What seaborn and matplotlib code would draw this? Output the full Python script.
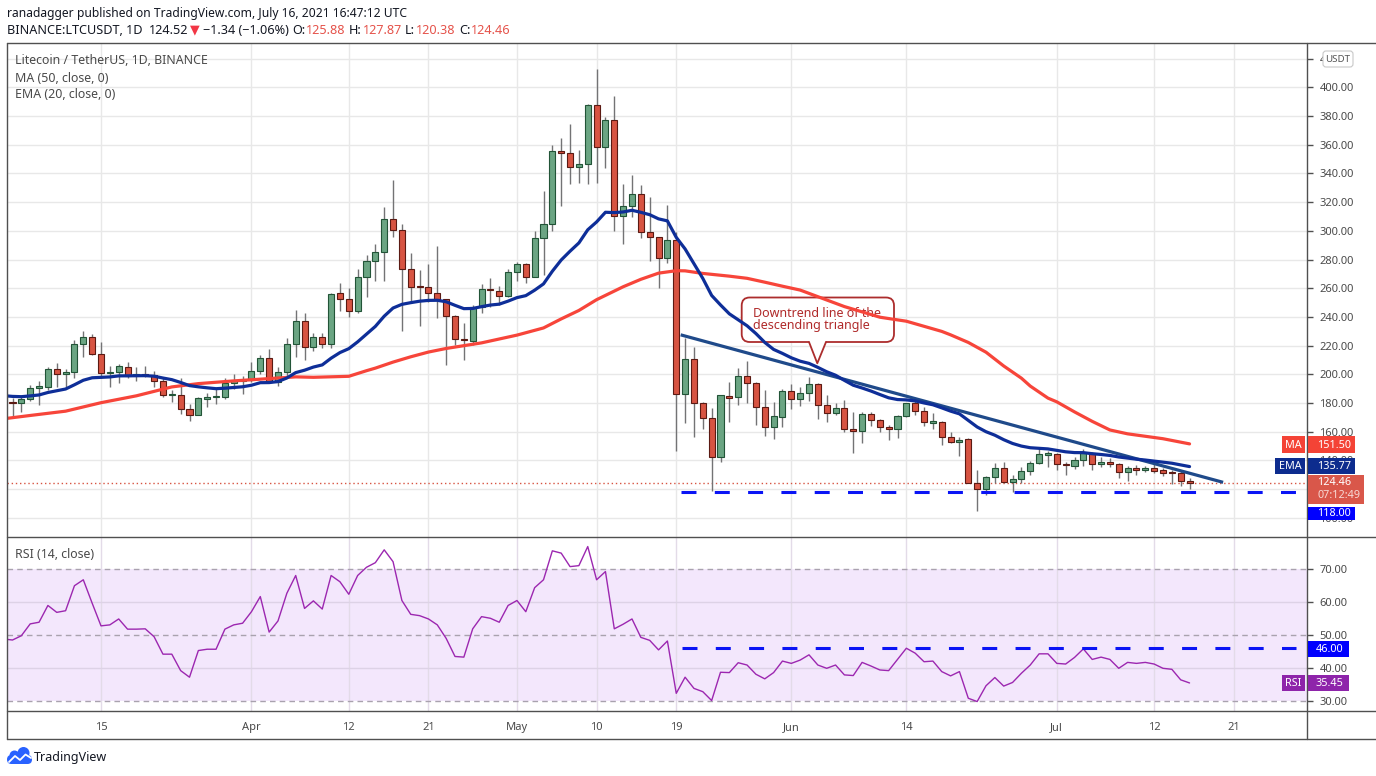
import numpy as np
import pandas as pd
import matplotlib
matplotlib.use("Agg")
import matplotlib.pyplot as plt
import matplotlib.dates as mdates
from matplotlib.patches import Rectangle, FancyBboxPatch, Polygon, Ellipse
from matplotlib.lines import Line2D
from matplotlib.transforms import Affine2D
import seaborn as sns

# ---------------- data ----------------
start_date = "2021-03-04"

mar_open = [187.2, 180.7, 179.8, 182.5, 190.2, 191.4, 203.7, 199.9, 201.3, 220.9, 225.7, 213.9, 200.6, 201.3,
            205.3, 199.5, 199.8, 199.7, 195.1, 185.3, 185.3, 175.6, 171.4, 183.0, 184.0, 183.9, 193.7, 195.5]
mar_high = [189.0, 183.2, 185.1, 192.5, 195.3, 205.3, 207.6, 203.7, 223.9, 230.2, 228.1, 222.3, 205.8, 207.1,
            208.3, 205.3, 205.8, 202.3, 198.3, 189.0, 197.2, 179.3, 183.9, 186.7, 189.5, 197.2, 200.0, 198.8]
mar_low = [179.5, 169.3, 174.0, 181.6, 178.6, 189.0, 191.4, 191.4, 197.6, 212.3, 213.4, 197.2, 190.9, 193.7,
           197.6, 195.5, 198.3, 191.4, 183.9, 180.9, 172.3, 167.7, 171.4, 177.4, 179.3, 182.5, 189.5, 186.2]
mar_close = [180.2, 179.8, 182.5, 190.2, 191.8, 203.7, 199.9, 201.3, 220.9, 225.7, 213.9, 200.6, 201.1, 205.8,
             199.0, 199.8, 199.7, 195.1, 185.3, 185.5, 175.6, 171.4, 183.2, 183.9, 184.2, 193.7, 195.5, 196.0]

apr_open = [196.0, 202.5, 211.1, 194.8, 201.8, 220.9, 236.9, 218.8, 225.8, 220.9, 256.4, 252.2, 243.9, 267.6, 278.7,
            285.0, 308.0, 300.3, 273.1, 261.6, 260.6, 256.9, 252.2, 240.9, 224.2, 223.4, 247.1, 259.6, 257.8, 254.8]
apr_high = [208.3, 213.4, 217.6, 204.8, 225.0, 244.8, 242.5, 228.5, 228.5, 256.9, 263.4, 259.9, 273.1, 283.1, 290.8,
            316.4, 335.4, 304.7, 284.8, 272.7, 276.9, 289.4, 252.8, 241.5, 235.5, 248.3, 262.9, 266.9, 261.5, 273.1]
apr_low = [194.8, 200.2, 193.8, 191.8, 198.3, 212.3, 210.0, 216.5, 218.6, 218.6, 244.3, 239.7, 243.0, 254.1, 265.2,
           265.2, 295.9, 230.4, 250.6, 233.9, 250.6, 239.0, 206.5, 220.4, 210.0, 220.4, 242.9, 247.1, 248.3, 254.1]
apr_close = [202.5, 211.1, 194.8, 201.8, 220.9, 236.9, 218.8, 225.8, 220.9, 255.7, 252.2, 243.9, 267.6, 278.7, 285.0,
             308.0, 300.3, 273.1, 261.1, 260.6, 256.9, 252.2, 240.9, 224.4, 223.8, 247.1, 259.2, 258.8, 254.8, 271.1]

may_open = [271.1, 276.6, 268.0, 294.7, 304.7, 355.6, 354.0, 344.2, 346.3, 387.7, 358.2, 377.0, 310.3, 317.5, 325.4,
            299.4, 295.4, 280.8, 293.6, 186.1, 210.6, 179.7, 169.3, 142.1, 185.0, 183.9, 198.8, 194.1, 176.9, 163.5, 170.0]
may_high = [278.5, 277.3, 299.9, 327.7, 359.8, 364.4, 374.4, 356.3, 388.4, 412.5, 379.0, 393.9, 332.6, 338.9, 331.9,
            323.8, 295.9, 318.0, 299.4, 225.0, 219.2, 180.5, 176.3, 185.8, 194.8, 204.1, 209.2, 194.5, 189.0, 180.9, 190.0]
may_low = [265.2, 263.8, 267.5, 269.2, 300.1, 317.5, 332.6, 333.5, 332.6, 333.1, 344.0, 300.1, 290.5, 309.8, 295.2,
           279.2, 259.9, 277.8, 146.8, 166.3, 156.5, 161.6, 118.5, 139.0, 167.0, 178.6, 180.2, 164.6, 157.0, 154.7, 163.0]
may_close = [276.6, 268.0, 294.7, 304.7, 355.6, 354.0, 344.2, 346.3, 387.7, 358.2, 377.0, 310.3, 317.5, 325.4, 299.4,
             295.4, 280.8, 293.6, 186.3, 210.6, 179.7, 169.3, 142.1, 185.5, 183.2, 198.8, 194.1, 176.9, 163.5, 170.9, 188.1]

jun_open = [188.1, 182.5, 186.7, 193.0, 178.4, 172.8, 176.3, 161.7, 160.3, 172.1, 168.2, 163.0, 161.7, 170.9, 179.8,
            174.7, 166.3, 167.0, 156.1, 152.6, 154.7, 124.5, 119.8, 128.6, 134.5, 124.7, 126.8, 132.6, 137.9, 144.0]
jun_high = [193.0, 190.9, 197.9, 193.7, 185.4, 179.8, 182.1, 174.0, 174.0, 173.7, 168.5, 164.7, 171.6, 180.2, 182.1,
            177.0, 173.2, 167.2, 160.0, 156.1, 155.4, 133.3, 128.8, 138.0, 138.7, 129.8, 135.6, 139.6, 149.1, 146.5]
jun_low = [175.6, 178.1, 181.6, 168.6, 167.0, 171.6, 160.0, 144.9, 151.9, 164.0, 160.0, 154.2, 155.4, 170.5, 171.6,
           164.0, 161.6, 150.7, 152.3, 143.3, 124.0, 105.0, 115.9, 124.0, 124.3, 118.2, 124.5, 129.8, 137.2, 135.6]
jun_close = [182.5, 186.7, 193.0, 178.4, 172.8, 176.3, 161.7, 160.3, 172.1, 168.2, 163.0, 161.7, 170.9, 179.8, 174.7,
             166.5, 166.9, 156.1, 152.6, 154.4, 124.5, 119.8, 128.6, 134.5, 124.7, 126.8, 132.6, 137.9, 144.2, 144.3]

jul_open = [144.2, 137.5, 136.3, 140.0, 144.9, 137.7, 138.9, 137.2, 132.1, 134.5, 133.5, 134.5, 133.3, 132.1, 131.0, 125.88]
jul_high = [144.9, 139.1, 142.1, 147.7, 145.9, 142.6, 141.4, 138.4, 136.1, 136.8, 136.1, 139.1, 134.9, 133.3, 133.3, 127.87]
jul_low = [133.3, 129.8, 134.0, 136.0, 133.3, 135.6, 135.6, 127.5, 125.6, 129.8, 132.1, 131.4, 129.4, 123.6, 122.2, 120.38]
jul_close = [137.2, 136.6, 140.3, 144.9, 137.7, 138.9, 137.2, 132.1, 134.5, 133.5, 134.5, 132.8, 131.4, 131.0, 125.9, 124.46]

ema_seed = 185.1
ema_span = 20

ma_dates = ["2021-03-04", "2021-03-07", "2021-03-11", "2021-03-15", "2021-03-19", "2021-03-23", "2021-03-26",
            "2021-03-30", "2021-04-03", "2021-04-06", "2021-04-08", "2021-04-12", "2021-04-14", "2021-04-15",
            "2021-04-17", "2021-04-19", "2021-04-21", "2021-04-23", "2021-04-27", "2021-05-01", "2021-05-04",
            "2021-05-06", "2021-05-08", "2021-05-10", "2021-05-13", "2021-05-15", "2021-05-17", "2021-05-19",
            "2021-05-20", "2021-05-22", "2021-05-25", "2021-05-27", "2021-05-29", "2021-05-31", "2021-06-02",
            "2021-06-07", "2021-06-11", "2021-06-14", "2021-06-18", "2021-06-19", "2021-06-21", "2021-06-23",
            "2021-06-25", "2021-06-27", "2021-06-28", "2021-06-30", "2021-07-01", "2021-07-03", "2021-07-05",
            "2021-07-07", "2021-07-09", "2021-07-11", "2021-07-13", "2021-07-16"]
ma_vals = [169.0, 171.3, 174.3, 180.2, 185.0, 191.2, 193.5, 195.4, 197.0, 198.2, 197.9, 198.6, 202.5, 204.3,
           208.5, 212.2, 215.5, 218.0, 221.9, 227.3, 232.3, 238.6, 244.5, 252.0, 261.0, 266.2, 270.5, 272.2,
           272.1, 270.3, 268.4, 266.9, 264.2, 261.4, 258.7, 247.2, 239.8, 237.0, 229.9, 227.5, 222.2, 215.4,
           205.8, 197.3, 191.8, 183.4, 180.8, 173.8, 167.2, 161.2, 158.5, 156.8, 155.1, 151.5]

rsi_mar = [48.8, 48.5, 49.8, 53.4, 53.9, 59.0, 56.9, 57.4, 65.0, 66.8, 59.7, 52.8, 53.1, 54.9, 51.8, 51.8, 51.9,
           49.5, 44.2, 44.2, 39.2, 37.2, 45.3, 45.7, 45.7, 51.8, 53.1, 53.6]
rsi_apr = [57.1, 61.7, 50.9, 54.3, 62.7, 68.1, 58.1, 60.4, 57.9, 68.1, 66.2, 62.4, 68.1, 70.6, 72.0, 75.9, 72.3,
           60.5, 56.3, 55.9, 54.9, 53.1, 49.0, 43.5, 43.3, 51.9, 55.6, 55.1, 53.9, 59.0]
rsi_may = [60.5, 57.1, 64.4, 66.8, 75.6, 74.9, 70.8, 71.1, 76.9, 66.8, 69.3, 51.9, 53.3, 54.9, 49.3, 48.4, 45.5,
           48.2, 32.3, 37.2, 33.8, 32.8, 30.1, 38.7, 38.6, 41.6, 40.9, 38.1, 36.7, 38.6, 42.1]
rsi_jun = [41.4, 42.4, 44.0, 40.9, 39.9, 40.9, 37.9, 37.7, 41.7, 40.6, 39.4, 39.2, 42.6, 46.0, 44.5, 41.9, 42.1,
           38.9, 37.6, 38.9, 30.8, 29.8, 34.6, 37.1, 34.5, 35.6, 38.4, 40.9, 44.3, 44.3]
rsi_jul = [41.4, 41.2, 43.2, 45.8, 42.6, 43.3, 42.6, 39.9, 41.7, 41.4, 41.7, 41.2, 39.9, 39.6, 36.4, 35.45]

trend_dates = ["2021-05-19 12:00", "2021-07-19 19:00"]
trend_vals = [227.5, 124.7]
support_level = 118.0
support_span = ["2021-05-19 14:00", "2021-07-28 00:00"]
rsi_level = 46.0
rsi_level_span = ["2021-05-19 15:00", "2021-07-28 00:00"]

tick_dates = ["2021-03-15", "2021-04-01", "2021-04-12", "2021-04-21", "2021-05-01", "2021-05-10",
              "2021-05-19", "2021-06-01", "2021-06-14", "2021-07-01", "2021-07-12", "2021-07-21"]
tick_labels = ["15", "Apr", "12", "21", "May", "10", "19", "Jun", "14", "Jul", "12", "21"]
price_ticks = list(range(100, 440, 20))
rsi_ticks = [30, 40, 50, 60, 70]

last_price = 124.46
ma_last = 151.50
ema_last_label = 135.77
rsi_last = 35.45

# ---------------- derived ----------------
opens = np.array(mar_open + apr_open + may_open + jun_open + jul_open)
highs = np.array(mar_high + apr_high + may_high + jun_high + jul_high)
lows = np.array(mar_low + apr_low + may_low + jun_low + jul_low)
closes = np.array(mar_close + apr_close + may_close + jun_close + jul_close)
rsi = np.array(rsi_mar + rsi_apr + rsi_may + rsi_jun + rsi_jul)
dates = pd.date_range(start_date, periods=len(closes), freq="D")
dn = mdates.date2num(dates)

alpha = 2.0 / (ema_span + 1)
ema = np.empty(len(closes))
ema[0] = ema_seed
for i in range(1, len(closes)):
    ema[i] = ema[i - 1] + alpha * (closes[i] - ema[i - 1])

ma_num = mdates.date2num(pd.to_datetime(ma_dates))
tick_num = mdates.date2num(pd.to_datetime(tick_dates))

# ---------------- figure ----------------
W, H = 1376, 776
sns.set_style("white")
plt.rcParams["font.family"] = ["Noto Sans", "DejaVu Sans"]
fig = plt.figure(figsize=(W / 100, H / 100), dpi=100)
fig.patch.set_facecolor("white")
PX = Affine2D().scale(1, -1).translate(0, H)   # pixel coords, origin top-left


def fx(x):
    return x / W


def fy(y):
    return 1 - y / H


L, R, T, SEP, RB, BB = 7, 1307, 43, 537, 711, 739
ax = fig.add_axes([fx(L), fy(SEP), (R - L) / W, (SEP - T) / H])
axr = fig.add_axes([fx(L), fy(RB), (R - L) / W, (RB - SEP) / H])

TXT = "#4a4a4a"
FRAME = "#505050"
GREEN, GREEN_E = "#6ba583", "#225437"
RED, RED_E = "#d75442", "#5b1a13"

# candles
up = closes >= opens
body_lo = np.minimum(opens, closes)
body_h = np.maximum(np.abs(closes - opens), 0.8)
ax.vlines(dn, lows, highs, color="#737375", linewidth=1.0, zorder=3)
ax.bar(dn, body_h, bottom=body_lo, width=0.68,
       color=np.where(up, GREEN, RED), edgecolor=np.where(up, GREEN_E, RED_E),
       linewidth=0.8, zorder=3.2)

# moving averages
sns.lineplot(x=ma_num, y=ma_vals, ax=ax, color="#f7453a", linewidth=2.3, zorder=4)
sns.lineplot(x=dn, y=ema, ax=ax, color="#0e2e98", linewidth=2.3, zorder=4.2)
ax.plot(mdates.date2num(pd.to_datetime(trend_dates)), trend_vals, color="#1f4a8a",
        linewidth=2.3, solid_capstyle="butt", zorder=4.1)
sp = mdates.date2num(pd.to_datetime(support_span))
ax.plot(sp, [support_level, support_level], color="#0a14f5", linewidth=2.2,
        linestyle=(0, (4.9, 6.0)), zorder=4)
ax.axhline(last_price, color="#d75442", linewidth=1.0, linestyle=(0, (1, 2)), zorder=2.5)

x0 = mdates.date2num(pd.Timestamp("2021-03-15")) - 94 / 8.85
x1 = mdates.date2num(pd.Timestamp("2021-03-15")) + 1206 / 8.85
ax.set_xlim(x0, x1)
ax.set_ylim(86.6, 430.9)
ax.set_xticks(tick_num)
ax.set_yticks(price_ticks)
ax.set_yticklabels([f"{v:.2f}" for v in price_ticks])
ax.yaxis.tick_right()
ax.tick_params(axis="x", length=0, labelbottom=False)
ax.tick_params(axis="y", length=4, width=1, color=FRAME, labelsize=8, labelcolor=TXT, pad=5)
ax.grid(True, color="#e8e8e8", linewidth=1.0)
ax.set_axisbelow(True)
ax.set_xlabel("")
ax.set_ylabel("")
for s in ax.spines.values():
    s.set_visible(False)

# annotation box (in pixel coordinates, below the lines)
abox = FancyBboxPatch((741.7, 297.5), 152.3, 44.5, boxstyle="round,pad=0,rounding_size=8",
                      transform=PX, facecolor="white", edgecolor="#ac2d2d", linewidth=1.3, zorder=2)
ax.add_patch(abox)
ax.add_patch(Polygon([(809, 340.5), (817.3, 362.5), (826, 340.5)], closed=True, transform=PX,
                     facecolor="white", edgecolor="none", zorder=2.05))
ax.add_line(Line2D([809, 817.3, 826], [342, 363.3, 342], transform=PX, color="#ac2d2d",
                   linewidth=1.3, zorder=2.06))
ax.text(753, 319.5, "Downtrend line of the\ndescending triangle", transform=PX, color="#b02a2a",
        fontsize=9.0, ha="left", va="center", linespacing=0.88, zorder=2.1)

# RSI panel
axr.axhspan(30, 70, color="#f3e7fc", zorder=0.2, linewidth=0)
for lv in (70, 50, 30):
    axr.axhline(lv, color="#a9a2ae", linewidth=1.0, linestyle=(0, (4, 3)), zorder=1)
for lv in (60, 40):
    axr.axhline(lv, color="#ddd2e6", linewidth=1.0, zorder=0.8)
sns.lineplot(x=dn, y=rsi, ax=axr, color="#9c27b0", linewidth=1.0, zorder=3)
rs = mdates.date2num(pd.to_datetime(rsi_level_span))
axr.plot(rs, [rsi_level, rsi_level], color="#0a14f5", linewidth=2.2,
         linestyle=(0, (4.9, 6.0)), zorder=4)
axr.set_xlim(x0, x1)
axr.set_ylim(26.93, 79.8)
axr.set_xticks(tick_num)
axr.set_xticklabels(tick_labels)
axr.set_yticks(rsi_ticks)
axr.set_yticklabels([f"{v:.2f}" for v in rsi_ticks])
axr.yaxis.tick_right()
axr.tick_params(axis="x", length=4, width=1, color=FRAME, labelsize=8, labelcolor=TXT, pad=4)
axr.tick_params(axis="y", length=4, width=1, color=FRAME, labelsize=8, labelcolor=TXT, pad=5)
axr.grid(True, axis="x", color="#e3dbe8", linewidth=1.0)
axr.set_axisbelow(True)
axr.set_xlabel("")
axr.set_ylabel("")
for s in axr.spines.values():
    s.set_visible(False)

# frame lines
for (xa, ya, xb, yb) in [(L, T, W, T), (L, SEP, W, SEP), (L, RB, W, RB), (L, BB, W, BB),
                         (L, T, L, BB), (R, T, R, BB)]:
    fig.add_artist(Line2D([xa, xb], [ya, yb], transform=PX, color=FRAME, linewidth=1.0, zorder=2))


# label boxes on the right axis
def tag(xa, ya, xb, yb, fc, text, tx=None, ha="center", tc="white", size=7.8, weight="bold", ec=None):
    fig.add_artist(Rectangle((xa, ya), xb - xa, yb - ya, transform=PX, facecolor=fc,
                             edgecolor=ec if ec else fc, linewidth=0.8 if ec else 0, zorder=5))
    if text:
        xt = (xa + xb) / 2 if tx is None else tx
        fig.text(xt, (ya + yb) / 2 + 0.5, text, transform=PX, color=tc, fontsize=size,
                 fontweight=weight, ha=ha, va="center", zorder=6)


tag(1282, 436, 1305, 453, "#f44336", "MA")
tag(1308, 436, 1355, 453, "#f44336", f"{ma_last:.2f}", tx=1317, ha="left")
tag(1275, 458, 1305, 474, "#0d2c8e", "EMA")
tag(1308, 458, 1355, 474, "#0d2c8e", f"{ema_last_label:.2f}", tx=1317, ha="left")
tag(1308, 474.5, 1364, 503.5, "#d9574a", None)
fig.text(1317, 482.5, f"{last_price:.2f}", transform=PX, color="white", fontsize=7.8,
         fontweight="bold", ha="left", va="center", zorder=6)
fig.text(1317, 496, "07:12:49", transform=PX, color="#f7d9d4", fontsize=7.8,
         ha="left", va="center", zorder=6)
tag(1308, 507, 1355, 519.5, "#0000ff", f"{support_level:.2f}", tx=1317, ha="left")
fig.add_artist(FancyBboxPatch((1323, 51), 30, 16, boxstyle="round,pad=0,rounding_size=3", transform=PX,
                              facecolor="white", edgecolor="#c8c8c8", linewidth=0.8, zorder=5))
fig.text(1338, 59.5, "USDT", transform=PX, color="#555555", fontsize=7, ha="center", va="center", zorder=6)

tag(1308, 641, 1349, 657, "#0000ff", f"{rsi_level:.2f}", tx=1316, ha="left")
tag(1282, 675, 1305, 691, "#8e24aa", "RSI")
tag(1308, 675, 1349, 691, "#8e24aa", f"{rsi_last:.2f}", tx=1316, ha="left")

# legend texts
fig.text(15, 61, "Litecoin / TetherUS, 1D, BINANCE", transform=PX, color="#4a4a4a", fontsize=8.9,
         fontweight="semibold", ha="left", va="center")
fig.text(15, 78, "MA (50, close, 0)", transform=PX, color="#4a4a4a", fontsize=8.9, ha="left", va="center")
fig.text(15, 95, "EMA (20, close, 0)", transform=PX, color="#4a4a4a", fontsize=8.9, ha="left", va="center")
fig.text(15, 554, "RSI (14, close)", transform=PX, color="#4a4a4a", fontsize=8.9, ha="left", va="center")

# header (rich text)
renderer = fig.canvas.get_renderer()


def rich(x, y, pieces, size):
    cx = x
    for s, col, wt, gap in pieces:
        t = fig.text(cx, y, s, transform=PX, color=col, fontsize=size, fontweight=wt, ha="left", va="center")
        cx += t.get_window_extent(renderer=renderer).width + gap


DARK = "#131722"
HRED = "#e5534b"
rich(7, 13, [("ranadagger", DARK, "bold", 3.2),
             ("published on TradingView.com, July 16, 2021 16:47:12 UTC", DARK, "normal", 0)], 8.7)
rich(7, 30, [("BINANCE:LTCUSDT, 1D", DARK, "bold", 6),
             ("124.52", DARK, "normal", 2),
             ("▼", "#f23645", "normal", 3.5),
             ("\u22121.34 (\u22121.06%)", DARK, "normal", 3.5),
             ("O:", DARK, "bold", 0.5), ("125.88", HRED, "normal", 3.5),
             ("H:", DARK, "bold", 0.5), ("127.87", HRED, "normal", 3.5),
             ("L:", DARK, "bold", 0.5), ("120.38", HRED, "normal", 3.5),
             ("C:", DARK, "bold", 0.5), ("124.46", HRED, "normal", 0)], 9.1)

# TradingView logo
logo_c = "#2962ff"
fig.add_artist(FancyBboxPatch((7, 755), 25, 9, boxstyle="round,pad=0,rounding_size=4.5", transform=PX,
                              facecolor=logo_c, edgecolor="none", zorder=5))
fig.add_artist(Ellipse((14.5, 755.5), 10, 10, transform=PX, facecolor=logo_c, edgecolor="none", zorder=5))
fig.add_artist(Ellipse((23.5, 753), 12, 12, transform=PX, facecolor=logo_c, edgecolor="none", zorder=5))
fig.add_artist(Line2D([9, 15, 20, 25.5, 31], [762, 756, 760, 754.5, 758], transform=PX, color="white",
                      linewidth=1.3, zorder=6))
fig.text(34, 757.5, "TradingView", transform=PX, color=DARK, fontsize=9.0, ha="left", va="center")

fig.savefig("out.png", dpi=100, facecolor="white")
